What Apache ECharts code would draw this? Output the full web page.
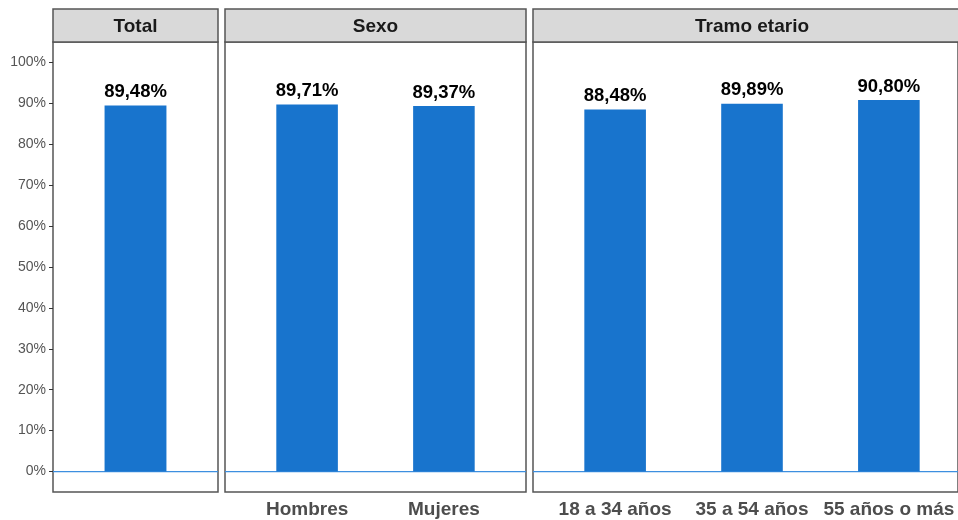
<!DOCTYPE html>
<html>
<head>
<meta charset="utf-8">
<script src="https://cdn.jsdelivr.net/npm/echarts@6/dist/echarts.min.js"></script>
<style>html,body{margin:0;padding:0;background:#fff}#c{width:958px;height:520px}</style>
</head>
<body>
<div id="c"></div>
<script>
// ---- data ----
var facetTitles = ['Total', 'Sexo', 'Tramo etario'];
var totalCats = ['Total'];
var totalVals = [89.48];
var sexoCats = ['Hombres', 'Mujeres'];
var sexoVals = [89.71, 89.37];
var tramoCats = ['18 a 34 años', '35 a 54 años', '55 años o más'];
var tramoVals = [88.48, 89.89, 90.80];
var yTicks = [0, 10, 20, 30, 40, 50, 60, 70, 80, 90, 100];
var yTickLabels = ['0%', '10%', '20%', '30%', '40%', '50%', '60%', '70%', '80%', '90%', '100%'];
var hlineY = 0;

// ---- layout ----
var FONT = 'Liberation Sans, Arial, sans-serif';
var panels = [
  { left: 53, width: 165, cats: totalCats, vals: totalVals, showX: false },
  { left: 225, width: 301, cats: sexoCats, vals: sexoVals, showX: true },
  { left: 533, width: 438, cats: tramoCats, vals: tramoVals, showX: true }
];
var TOP = 42, HEIGHT = 450, STRIP_TOP = 9, STRIP_H = 33;
var YMIN = -5, YMAX = 105;
var BORDER = '#555555';

var grids = [], xAxes = [], yAxes = [], series = [], graphics = [];
panels.forEach(function (p, i) {
  grids.push({ left: p.left, top: TOP, width: p.width, height: HEIGHT, show: true,
    backgroundColor: '#fff', borderColor: BORDER, borderWidth: 1.5, containLabel: false });
  xAxes.push({ gridIndex: i, type: 'value', min: 0, max: 1, show: false });
  yAxes.push({ gridIndex: i, type: 'value', min: YMIN, max: YMAX,
    splitLine: { show: false },
    axisLine: { show: false },
    axisTick: { show: i === 0, length: 4, lineStyle: { color: '#333' }, customValues: yTicks },
    axisLabel: { show: i === 0, margin: 7, fontFamily: FONT, fontSize: 14, color: '#555555',
      customValues: yTicks,
      formatter: function (v) { var k = yTicks.indexOf(v); return k >= 0 ? yTickLabels[k] : ''; } }
  });
  series.push({ type: 'line', xAxisIndex: i, yAxisIndex: i, data: [[0, hlineY], [1, hlineY]],
    showSymbol: false, silent: true, lineStyle: { color: '#3d8fe0', width: 1.3 }, z: 1 });
});
panels.forEach(function (p, i) {
  var n = p.cats.length;
  var unit = p.width / (n + 0.2);
  var gi = i + 3;
  grids.push({ left: p.left + unit * 0.1, top: TOP, width: unit * n, height: HEIGHT, containLabel: false });
  xAxes.push({ gridIndex: gi, type: 'category', data: p.cats, boundaryGap: true,
    axisLine: { show: false }, axisTick: { show: false },
    axisLabel: { show: p.showX, margin: 8, interval: 0, fontFamily: FONT, fontSize: 19,
      fontWeight: 'bold', color: '#4d4d4d' } });
  yAxes.push({ gridIndex: gi, type: 'value', min: YMIN, max: YMAX, show: false, splitLine: { show: false } });
  series.push({ type: 'bar', xAxisIndex: gi, yAxisIndex: gi, data: p.vals, barWidth: '45%',
    itemStyle: { color: '#1874CD' }, z: 3,
    label: { show: true, position: 'top', distance: 4, fontFamily: FONT, fontSize: 18.5,
      fontWeight: 'bold', color: '#000',
      formatter: function (d) { return d.value.toFixed(2).replace('.', ',') + '%'; } } });
  graphics.push({ type: 'group', children: [
    { type: 'rect', shape: { x: p.left, y: STRIP_TOP, width: p.width, height: STRIP_H },
      style: { fill: '#d9d9d9', stroke: BORDER, lineWidth: 1.5 } },
    { type: 'text', x: p.left + p.width / 2, y: STRIP_TOP + STRIP_H / 2 + 1.5,
      style: { text: facetTitles[i], fill: '#1a1a1a', font: 'bold 19px ' + FONT,
        textAlign: 'center', textVerticalAlign: 'middle' } }
  ]});
});

var chart = echarts.init(document.getElementById('c'), null, { renderer: 'canvas' });
chart.setOption({
  animation: false,
  backgroundColor: '#fff',
  grid: grids, xAxis: xAxes, yAxis: yAxes, series: series, graphic: graphics
});
</script>
</body>
</html>
